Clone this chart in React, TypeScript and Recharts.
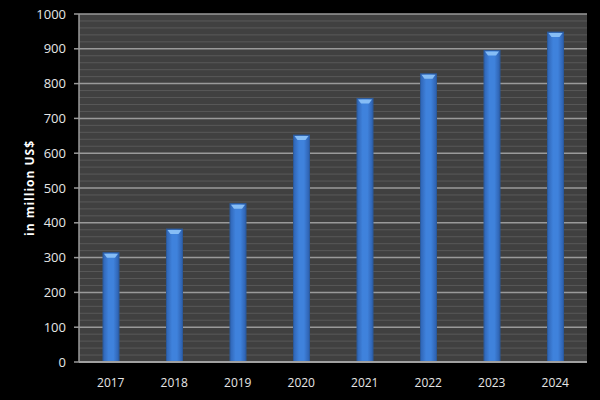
import { BarChart, Bar, XAxis, YAxis, CartesianGrid, Label } from 'recharts';

const years = ['2017', '2018', '2019', '2020', '2021', '2022', '2023', '2024'];
const revenue = [314, 382, 455, 652, 757, 828, 895, 948];
const yTicks = [0, 100, 200, 300, 400, 500, 600, 700, 800, 900, 1000];
const minorTicks = [
  20, 40, 60, 80, 120, 140, 160, 180, 220, 240, 260, 280, 320, 340, 360, 380,
  420, 440, 460, 480, 520, 540, 560, 580, 620, 640, 660, 680, 720, 740, 760, 780,
  820, 840, 860, 880, 920, 940, 960, 980,
];

const data = years.map((year, i) => ({ year, value: revenue[i] }));

const font = '"Open Sans", "DejaVu Sans", sans-serif';

function BevelBar(props: any) {
  const { x, y, width, height } = props;
  if (!height || height <= 0) return null;
  const cap = 5;
  const inset = 4;
  return (
    <g>
      <rect x={x} y={y} width={width} height={height} fill="url(#barFill)" />
      <rect x={x} y={y} width={width} height={height} fill="none" stroke="#2b5a9c" strokeWidth={1} />
      <polygon
        points={`${x + 1},${y + 1} ${x + width - 1},${y + 1} ${x + width - inset},${y + cap} ${x + inset},${y + cap}`}
        fill="#86bdf5"
      />
    </g>
  );
}

export default function App() {
  return (
    <div style={{ position: 'absolute', left: 0, top: 0, width: 600, height: 400, background: '#000' }}>
      <BarChart
        width={600}
        height={400}
        data={data}
        margin={{ top: 14, right: 13, bottom: 0, left: 0 }}
        barCategoryGap="0%"
      >
        <defs>
          <linearGradient id="barFill" x1="0" y1="0" x2="1" y2="0">
            <stop offset="0%" stopColor="#2f64b4" />
            <stop offset="35%" stopColor="#3f82dc" />
            <stop offset="65%" stopColor="#3f82dc" />
            <stop offset="100%" stopColor="#2d5fad" />
          </linearGradient>
        </defs>
        <CartesianGrid
          vertical={false}
          fill="#404040"
          stroke="#585858"
          horizontalValues={minorTicks}
        />
        <CartesianGrid
          vertical={false}
          stroke="#9a9a9a"
          strokeWidth={1.5}
          horizontalValues={yTicks}
        />
        <XAxis
          dataKey="year"
          height={38}
          tickLine={false}
          tickSize={0}
          tickMargin={16}
          axisLine={{ stroke: '#a0a0a0', strokeWidth: 2 }}
          tick={{ fill: '#e6e6e6', fontSize: 12, fontFamily: font }}
        />
        <YAxis
          width={79}
          domain={[0, 1000]}
          ticks={yTicks}
          interval={0}
          tickSize={5}
          tickMargin={8}
          axisLine={{ stroke: '#9a9a9a', strokeWidth: 1.5 }}
          tickLine={{ stroke: '#9a9a9a', strokeWidth: 1.5 }}
          tick={{ fill: '#e6e6e6', fontSize: 13, fontFamily: font }}
        >
          <Label
            value="in million  US$"
            angle={-90}
            position="center"
            dx={-10}
            style={{
              fill: '#ffffff',
              fontSize: 12,
              fontWeight: 'bold',
              fontFamily: font,
              letterSpacing: 1,
              whiteSpace: 'pre',
            }}
          />
        </YAxis>
        <Bar dataKey="value" barSize={16} shape={<BevelBar />} isAnimationActive={false} />
      </BarChart>
    </div>
  );
}
